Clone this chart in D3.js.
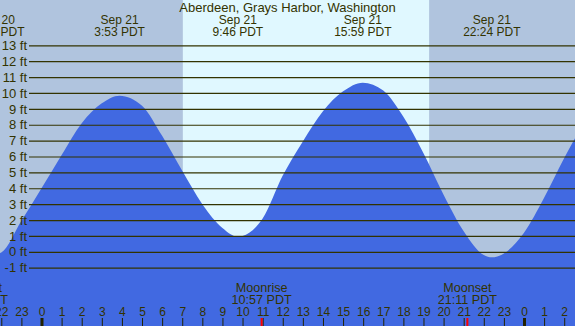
<!DOCTYPE html>
<html>
<head>
<meta charset="utf-8">
<script src="https://cdn.jsdelivr.net/npm/d3@7"></script>
<style>
  body { margin: 0; background: #b0c4de; }
  svg { display: block; font-family: "Liberation Sans", Arial, sans-serif; font-size: 12px; }
  text { fill: #333300; }
</style>
</head>
<body>
<script>
const width = 575;
const height = 326;

// hours are counted from Sep 21 00:00 PDT
const tideTimes = [-3, -2.27, -2, -1, 0, 1, 2, 3, 3.88, 5, 6, 7, 8, 9, 9.77, 10, 11, 12, 13, 14, 15, 15.98, 17, 18, 19, 20, 21, 22, 22.4, 23, 24, 25, 26, 27];
const tideFeet = [0.5, -0.15, -0.05, 1.95, 4.0, 6.1, 8.1, 9.35, 9.83, 9.2, 7.3, 5.1, 3.0, 1.5, 0.95, 1.0, 2.1, 4.8, 6.95, 8.85, 10.1, 10.65, 10.15, 8.5, 6.2, 3.6, 1.3, -0.2, -0.35, -0.1, 1.2, 3.4, 5.9, 8.2];

// highs and lows
const extremeTimes = [-2.27, 3.883, 9.767, 15.983, 22.4];
const extremeDates = ['Sep 20', 'Sep 21', 'Sep 21', 'Sep 21', 'Sep 21'];
const extremeLabels = ['21:44 PDT', '3:53 PDT', '9:46 PDT', '15:59 PDT', '22:24 PDT'];

// moon
const moonTimes = [-3.17, 10.95, 21.183];
const moonNames = ['Moonset', 'Moonrise', 'Moonset'];
const moonLabels = ['20:50 PDT', '10:57 PDT', '21:11 PDT'];

const sunrise = 7.03;
const sunset = 19.28;

const feetTicks = d3.range(-1, 14);
const hourTicks = d3.range(-2, 27);

const svg = d3.select('body').append('svg')
    .attr('width', width).attr('height', height);

const x = d3.scaleLinear().domain([0, 24]).range([41.5, 524]);
const y = d3.scaleLinear().domain([-1, 13]).range([267.7, 45.3]);

// night background + daylight band
svg.append('rect').attr('width', width).attr('height', height).attr('fill', '#b0c4de');
svg.append('rect')
    .attr('x', x(sunrise)).attr('y', 0)
    .attr('width', x(sunset) - x(sunrise)).attr('height', height)
    .attr('fill', '#e0f8ff');

// water
const tide = tideTimes.map((t, i) => ({t, v: tideFeet[i]}));
const area = d3.area()
    .x(d => x(d.t))
    .y0(height)
    .y1(d => y(d.v))
    .curve(d3.curveMonotoneX);
svg.append('path').datum(tide).attr('d', area).attr('fill', '#4169e1');

// feet grid
const gridLeft = 29;
const yAxis = svg.append('g')
    .attr('transform', `translate(${gridLeft},0)`)
    .call(d3.axisLeft(y).tickValues(feetTicks)
        .tickSize(-(width - gridLeft)).tickPadding(2)
        .tickFormat(d => d + ' ft'));
yAxis.select('.domain').remove();
yAxis.selectAll('line').attr('stroke', '#333300').attr('stroke-width', 1.2);
yAxis.selectAll('text').attr('fill', '#333300').attr('font-size', 13)
    .attr('font-family', '"Liberation Sans", Arial, sans-serif');

// hour axis at the bottom
const xAxis = svg.append('g')
    .attr('transform', `translate(0,${height})`)
    .call(d3.axisTop(x).tickValues(hourTicks).tickSize(8).tickPadding(2)
        .tickFormat(h => ((h % 24) + 24) % 24));
xAxis.select('.domain').remove();
xAxis.selectAll('line')
    .attr('stroke', '#222200')
    .attr('stroke-width', h => (((h % 24) + 24) % 24 === 0) ? 3 : 1);
xAxis.selectAll('text').attr('fill', '#333300').attr('font-size', 12)
    .attr('font-family', '"Liberation Sans", Arial, sans-serif');

// moon ticks + labels
svg.selectAll('line.moon')
    .data(moonTimes)
    .enter().append('line')
    .attr('class', 'moon')
    .attr('x1', d => x(d)).attr('x2', d => x(d))
    .attr('y1', height - 8).attr('y2', height)
    .attr('stroke', '#ff0000').attr('stroke-width', 2);

const moon = svg.selectAll('g.moonlabel')
    .data(moonTimes)
    .enter().append('g')
    .attr('class', 'moonlabel')
    .attr('transform', d => `translate(${x(d)},0)`)
    .attr('font-size', 12.6);
moon.append('text').attr('y', 292).attr('text-anchor', 'middle').text((d, i) => moonNames[i]);
moon.append('text').attr('y', 304).attr('text-anchor', 'middle').text((d, i) => moonLabels[i]);

// high / low labels on top
const ext = svg.selectAll('g.ext')
    .data(extremeTimes)
    .enter().append('g')
    .attr('class', 'ext')
    .attr('transform', d => `translate(${x(d)},0)`);
ext.append('text').attr('y', 24).attr('text-anchor', 'middle').text((d, i) => extremeDates[i]);
ext.append('text').attr('y', 36).attr('text-anchor', 'middle').text((d, i) => extremeLabels[i]);

// title
svg.append('text')
    .attr('x', width / 2).attr('y', 11.5)
    .attr('text-anchor', 'middle')
    .attr('font-size', 13)
    .text('Aberdeen, Grays Harbor, Washington');
</script>
</body>
</html>
